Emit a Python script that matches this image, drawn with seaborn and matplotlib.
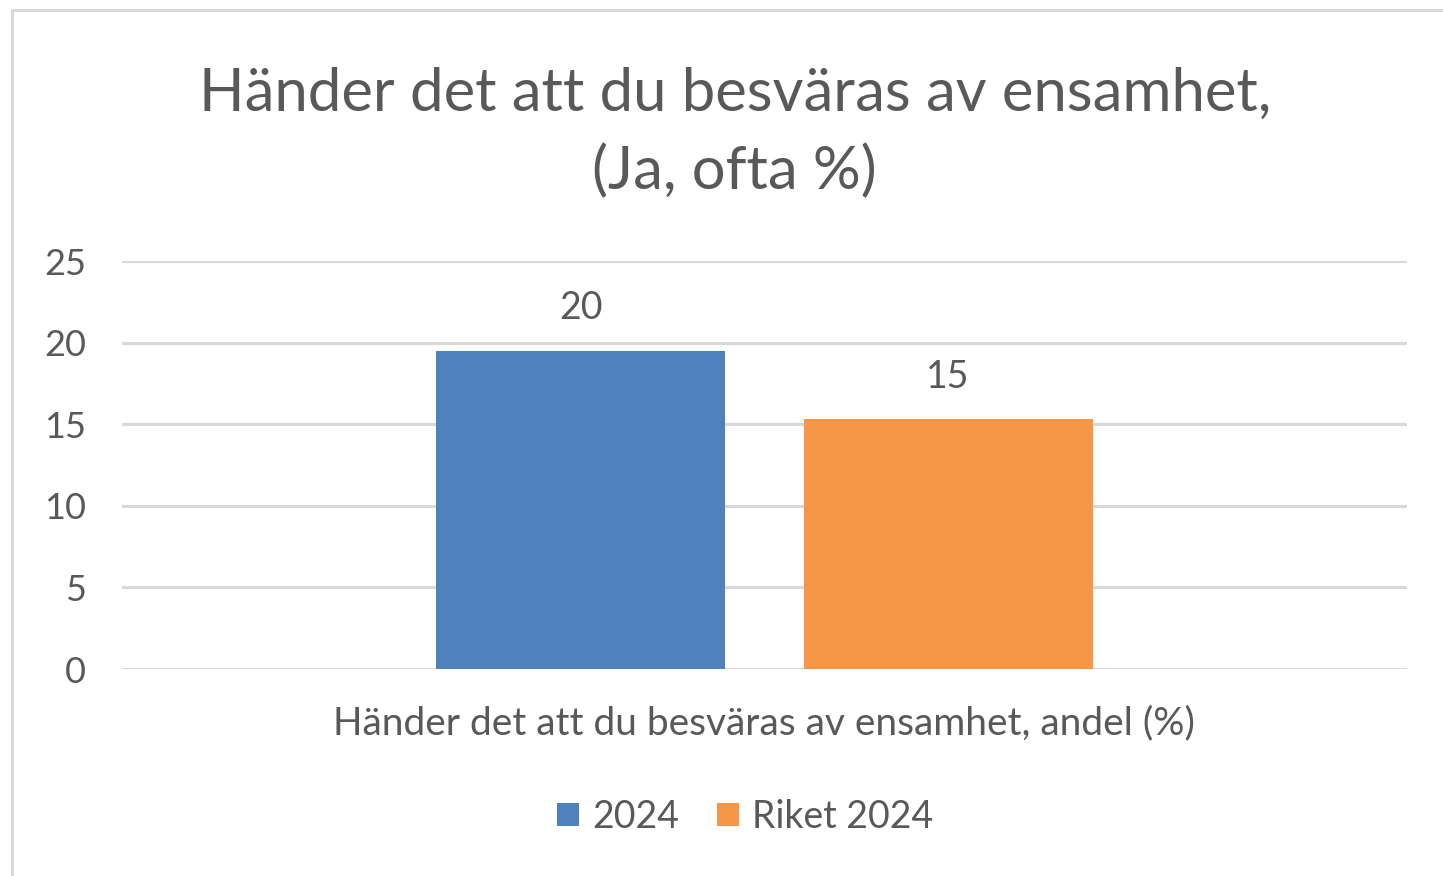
import matplotlib
matplotlib.use("Agg")
import matplotlib.pyplot as plt
import pandas as pd
import seaborn as sns

# Data
categories = ["Händer det att du besväras av ensamhet, andel (%)"]
series = ["2024", "Riket 2024"]
values = [19.5, 15.3]
labels = ["20", "15"]

colors = ["#4F81BD", "#F79646"]
text_color = "#595959"
grid_color = "#D9D9D9"

sns.set_theme(style="white")
plt.rcParams["font.family"] = ["Lato", "DejaVu Sans"]

df = pd.DataFrame({
    "category": categories * len(series),
    "series": series,
    "value": values,
})

fig = plt.figure(figsize=(14.43, 8.76), dpi=100)
ax = fig.add_axes([0.0845, 0.2363, 0.8905, 0.4657])

sns.barplot(
    data=df, x="category", y="value", hue="series",
    palette=colors, width=0.572, gap=0.213, ax=ax,
    edgecolor="none", saturation=1, legend=True, zorder=3,
)

ax.set_ylim(0, 25)
ax.set_xlim(-0.5, 0.5)
ax.set_yticks([0, 5, 10, 15, 20, 25])
ax.yaxis.grid(True, color=grid_color, linewidth=2.3, zorder=0)
ax.set_axisbelow(True)
for side in ax.spines.values():
    side.set_visible(False)
ax.tick_params(axis="y", length=0, pad=26, labelsize=26, labelcolor=text_color)
ax.tick_params(axis="x", length=0, pad=26, labelsize=28, labelcolor=text_color)
ax.set_xlabel("")
ax.set_ylabel("")

for cont, lab in zip(ax.containers, labels):
    ax.bar_label(cont, labels=[lab], padding=17.5, fontsize=27, color=text_color)

ax.set_title("Händer det att du besväras av ensamhet,\n(Ja, ofta %)",
             fontsize=43, color=text_color, pad=52, linespacing=1.49, x=0.477)

handles, hl = ax.get_legend_handles_labels()
ax.legend(handles, hl, loc="center", bbox_to_anchor=(0.485, -0.362),
          ncol=2, frameon=False, fontsize=27, labelcolor=text_color,
          handlelength=0.58, handleheight=0.58, handletextpad=0.35,
          columnspacing=1.0)

# thin frame around the chart area (top and left edges visible)
fig.add_artist(plt.Line2D([12 / 1443, 1], [1 - 10 / 876, 1 - 10 / 876],
                          color="#D9D9D9", linewidth=2.2, transform=fig.transFigure))
fig.add_artist(plt.Line2D([12 / 1443, 12 / 1443], [0, 1 - 10 / 876],
                          color="#D9D9D9", linewidth=2.2, transform=fig.transFigure))

fig.savefig("out.png", dpi=100)
